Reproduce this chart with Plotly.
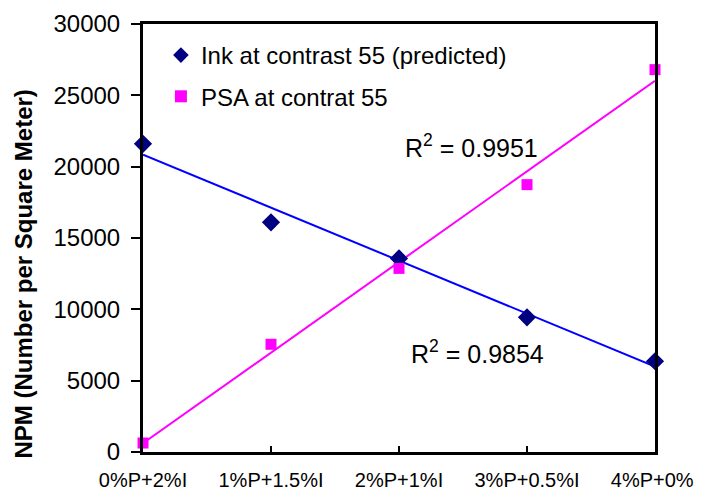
import numpy as np
import plotly.graph_objects as go

categories = ["0%P+2%I", "1%P+1.5%I", "2%P+1%I", "3%P+0.5%I", "4%P+0%I"]
ink_values = [21600, 16100, 13570, 9440, 6360]
psa_values = [630, 7550, 12870, 18740, 26800]
ink_name = "Ink at contrast 55 (predicted)"
psa_name = "PSA at contrat 55"
r2_ink_label = "R<sup>2</sup> = 0.9854"
r2_psa_label = "R<sup>2</sup> = 0.9951"
y_ticks = [0, 5000, 10000, 15000, 20000, 25000, 30000]

xi = np.arange(len(categories))
FONT = "Liberation Sans, Arial, sans-serif"

def fit(vals):
    k, b = np.polyfit(xi, vals, 1)
    xs = np.array([xi[0], xi[-1]])
    return xs, k * xs + b

fig = go.Figure()
fx, fy = fit(ink_values)
fig.add_trace(go.Scatter(x=fx, y=fy, mode="lines", line=dict(color="#0000FF", width=2),
                         showlegend=False, hoverinfo="skip", cliponaxis=False))
fx, fy = fit(psa_values)
fig.add_trace(go.Scatter(x=fx, y=fy, mode="lines", line=dict(color="#FF00FF", width=2),
                         showlegend=False, hoverinfo="skip", cliponaxis=False))
fig.add_trace(go.Scatter(x=xi, y=ink_values, mode="markers", name=ink_name, legendgroup="a",
                         marker=dict(symbol="diamond", size=14, color="#000080"), cliponaxis=False))
fig.add_trace(go.Scatter(x=xi, y=psa_values, mode="markers", name=psa_name, legendgroup="b",
                         marker=dict(symbol="square", size=11, color="#FF00FF"), cliponaxis=False))

fig.add_annotation(x=2.57, y=21470, text=r2_psa_label, showarrow=False,
                   font=dict(family=FONT, size=25, color="black"))
fig.add_annotation(x=2.61, y=7000, text=r2_ink_label, showarrow=False,
                   font=dict(family=FONT, size=25, color="black"))
fig.add_annotation(xref="paper", yref="paper", x=-0.234, y=0.415, xanchor="center", yanchor="middle",
                   text="<b>NPM (Number per Square Meter)</b>", textangle=-90, showarrow=False,
                   font=dict(family=FONT, size=24, color="black"))

fig.update_layout(
    width=695, height=483,
    margin=dict(l=135, r=48, t=16, b=39, autoexpand=False),
    paper_bgcolor="white", plot_bgcolor="white",
    font=dict(family=FONT, size=21, color="black"),
    showlegend=True,
    legend=dict(x=0.035, y=0.979, xanchor="left", yanchor="top", bgcolor="rgba(0,0,0,0)",
                font=dict(family=FONT, size=24), tracegroupgap=7, itemsizing="constant"),
    xaxis=dict(range=[0, 4], tickvals=list(xi), ticktext=categories, showgrid=False, zeroline=False,
               showline=True, linecolor="black", linewidth=3, mirror=True, automargin=False,
               ticks="inside", ticklen=6, tickwidth=1.5, tickcolor="black", ticklabelstandoff=8,
               tickfont=dict(family=FONT, size=20)),
    yaxis=dict(range=[0, 30000], tickvals=y_ticks, showgrid=False, zeroline=False,
               showline=True, linecolor="black", linewidth=3, mirror=True, automargin=False,
               ticks="outside", ticklen=9, tickwidth=1.5, tickcolor="black", ticklabelstandoff=6,
               tickfont=dict(family=FONT, size=24), tickformat="d"),
)

fig.write_html("out.html")
